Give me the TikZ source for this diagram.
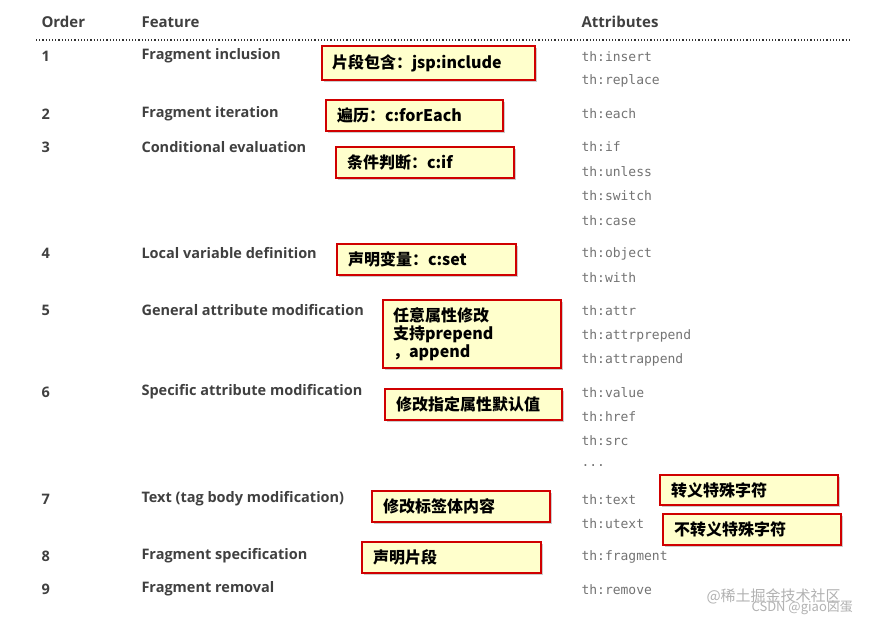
\documentclass[tikz,border=0pt]{standalone}
\usepackage{fontspec}
\setmainfont{Open Sans}
\setmonofont{DejaVu Sans Mono}
\newfontfamily\cjk{Noto Sans CJK SC}
\usetikzlibrary{shadows}
\definecolor{boxfill}{HTML}{FFFFCC}
\definecolor{boxred}{HTML}{D00000}
\tikzset{
  hd/.style={anchor=west,font=\fontsize{15}{17}\selectfont\bfseries,text=black!75},
  ft/.style={anchor=west,font=\fontsize{14.5}{17}\selectfont\bfseries,text=black!75},
  attrtxt/.style={anchor=west,font=\fontsize{13}{15}\ttfamily,text=black!55},
  callout/.style={draw=boxred,line width=2pt,fill=boxfill,drop shadow={shadow xshift=2pt,shadow yshift=-2pt,opacity=0.4},anchor=north west,inner sep=0pt,font=\cjk\bfseries\fontsize{16}{19}\selectfont,align=left},
  wm/.style={anchor=west,font=\cjk\fontsize{15}{17}\selectfont,text=black!30}
}
\begin{document}
\begin{tikzpicture}[x=1pt,y=-1pt]
\useasboundingbox (0,0) rectangle (882,624);
\fill[white] (0,0) rectangle (882,624);
\node[hd] (h1) at (38,22) {Order};
\node[hd] (h2) at (138,22) {Feature};
\node[hd] (h3) at (578,22) {Attributes};
\draw[black!80,line width=1.2pt,dotted] (36,40) -- (850,40);
% orders
\foreach \n/\y in {1/56,2/114,3/147,4/253,5/310,6/392,7/499,8/556,9/589}
  \node[ft] (o\n) at (38,\y) {\n};
\node[ft] (f1) at (138,56) {Fragment inclusion};
\node[ft] (f2) at (138,114) {Fragment iteration};
\node[ft] (f3) at (138,147) {Conditional evaluation};
\node[ft] (f4) at (138,253) {Local variable definition};
\node[ft] (f5) at (138,310) {General attribute modification};
\node[ft] (f6) at (138,392) {Specific attribute modification};
\node[ft] (f7) at (138,499) {Text (tag body modification)};
\node[ft] (f8) at (138,556) {Fragment specification};
\node[ft] (f9) at (138,589) {Fragment removal};
% attributes
\foreach \nm/\aname/\y in {a1/insert/57,a2/replace/81,a3/each/114,a4/if/147,a5/unless/172,a6/switch/196,a7/case/221,a8/object/254,a9/with/278,a10/attr/311,a11/attrprepend/336,a12/attrappend/360,a13/value/393,a14/href/417,a15/src/441,a16/text/500,a17/utext/524,a18/fragment/557,a19/remove/590}
  \node[attrtxt] (\nm) at (578,\y) {th:\aname};
\node[attrtxt] (dots) at (578,466) {...};
% callouts
\node[callout,minimum width=213pt,minimum height=34pt,text width=193pt,inner xsep=10pt] (c1) at (321,45) {片段包含：jsp:include};
\node[callout,minimum width=177pt,minimum height=31pt,text width=155pt,inner xsep=11pt] (c2) at (325,99) {遍历：c:forEach};
\node[callout,minimum width=178pt,minimum height=31pt,text width=156pt,inner xsep=11pt] (c3) at (335,146) {条件判断：c:if};
\node[callout,minimum width=179pt,minimum height=31pt,text width=157pt,inner xsep=11pt] (c4) at (336,243) {声明变量：c:set};
\node[callout,minimum width=178pt,minimum height=68pt,text width=158pt,inner xsep=10pt,font=\cjk\bfseries\fontsize{16}{18}\selectfont] (c5) at (382,299) {任意属性修改\\支持prepend\\，append};
\node[callout,minimum width=177pt,minimum height=31pt,text width=155pt,inner xsep=11pt] (c6) at (384,388) {修改指定属性默认值};
\node[callout,minimum width=178pt,minimum height=31pt,text width=156pt,inner xsep=11pt] (c7) at (371,490) {修改标签体内容};
\node[callout,minimum width=179pt,minimum height=31pt,text width=157pt,inner xsep=11pt] (c8) at (361,541) {声明片段};
\node[callout,minimum width=178pt,minimum height=30pt,text width=156pt,inner xsep=11pt] (c9) at (659,474) {转义特殊字符};
\node[callout,minimum width=178pt,minimum height=31pt,text width=156pt,inner xsep=11pt] (c10) at (662,513) {不转义特殊字符};
% watermark
\node[wm] (w1) at (703,596) {@稀土掘金技术社区};
\node[wm,font=\cjk\fontsize{13}{15}\selectfont] (w2) at (748,608) {CSDN @giao囟蛋};
\end{tikzpicture}
\end{document}
